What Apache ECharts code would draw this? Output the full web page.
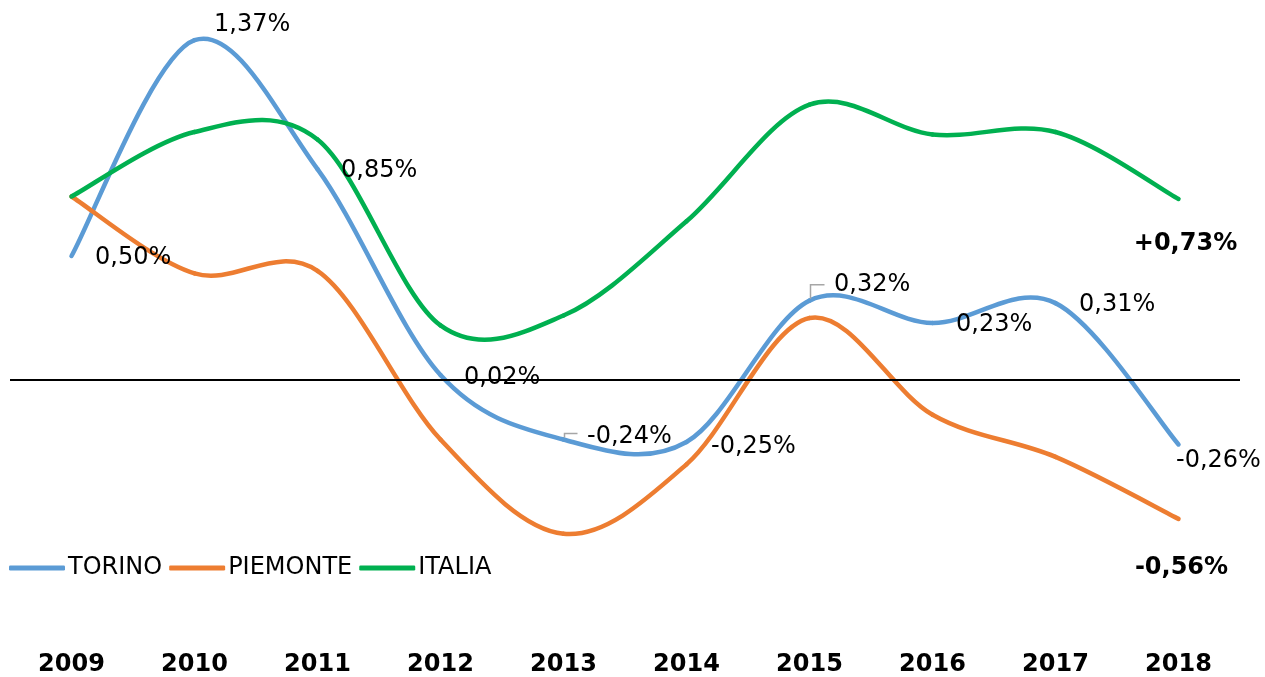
<!DOCTYPE html>
<html lang="it">
  <head>
    <meta charset="UTF-8" />
    <title>Torino Piemonte Italia</title>
    <script src="https://cdn.jsdelivr.net/npm/echarts@6.0.0/dist/echarts.min.js"></script>
    <style>
      body {
        margin: 0;
        padding: 0;
        background: #fff;
        font-family: "DejaVu Sans", Verdana, sans-serif;
      }
      #main {
        width: 1265px;
        height: 677px;
      }
    </style>
  </head>
  <body>
    <div id="main"></div>

    <script>
      // categories and values (percent)
      const years = ["2009", "2010", "2011", "2012", "2013", "2014", "2015", "2016", "2017", "2018"];
      const torino = [0.5, 1.37, 0.85, 0.02, -0.24, -0.25, 0.32, 0.23, 0.31, -0.26];
      const piemonte = [0.74, 0.43, 0.44, -0.24, -0.62, -0.34, 0.25, -0.14, -0.31, -0.56];
      const italia = [0.74, 1.0, 0.97, 0.22, 0.26, 0.64, 1.11, 0.99, 1.0, 0.73];

      // label offsets for the TORINO values, [dx, dy]
      const torinoLabelOffsets = [
        [23, 2], [19, -15], [23, 2], [23, 3], [23, -3],
        [24, 5], [24, -16], [23, 2], [23, 2], [-3, 16]
      ];
      // small grey leader elbows: dataIndex -> [rise, run]
      const leaders = { 4: [-6, 13], 6: [-16, 14] };

      function fmt(v) {
        return v.toFixed(2).replace(".", ",") + "%";
      }

      const blue = "#5B9BD5";
      const orange = "#ED7D31";
      const green = "#00B050";

      // Excel-like smoothed line (Catmull-Rom segments through the points)
      function curveSeries(name, values, color, withLeaders) {
        return {
          name: name,
          type: "custom",
          coordinateSystem: "cartesian2d",
          itemStyle: { color: color },
          encode: { x: 0, y: 1 },
          data: values.map((v, i) => [i, v]),
          silent: true,
          z: 3,
          renderItem: function (params, api) {
            const i = params.dataIndexInside;
            const n = values.length;
            const pt = (k) => {
              k = Math.max(0, Math.min(n - 1, k));
              return api.coord([api.value(0, k), api.value(1, k)]);
            };
            const children = [];
            if (i < n - 1) {
              const p0 = pt(i - 1), p1 = pt(i), p2 = pt(i + 1), p3 = pt(i + 2);
              children.push({
                type: "bezierCurve",
                shape: {
                  x1: p1[0], y1: p1[1],
                  x2: p2[0], y2: p2[1],
                  cpx1: p1[0] + (p2[0] - p0[0]) / 6,
                  cpy1: p1[1] + (p2[1] - p0[1]) / 6,
                  cpx2: p2[0] - (p3[0] - p1[0]) / 6,
                  cpy2: p2[1] - (p3[1] - p1[1]) / 6,
                },
                style: { stroke: color, lineWidth: 4.5, fill: null, lineCap: "round" },
              });
            }
            if (withLeaders && leaders[i]) {
              const p = pt(i);
              const [rise, run] = leaders[i];
              children.push({
                type: "polyline",
                z2: 10,
                shape: {
                  points: [
                    [p[0] + 1, p[1] - 2],
                    [p[0] + 1, p[1] + rise],
                    [p[0] + 1 + run, p[1] + rise],
                  ],
                },
                style: { stroke: "#a6a6a6", lineWidth: 1.5, fill: null },
              });
            }
            return { type: "group", children: children };
          },
        };
      }

      // invisible line series that carry the value labels
      function labelSeries(name, data, color) {
        return {
          name: name,
          type: "line",
          data: data,
          color: color,
          symbol: "circle",
          symbolSize: 1,
          showSymbol: true,
          silent: true,
          z: 4,
          lineStyle: { opacity: 0 },
          label: {
            show: false,
            color: "#000",
            fontSize: 24,
            fontFamily: "DejaVu Sans",
            position: "right",
            distance: 0,
            formatter: (p) => fmt(p.value),
          },
          emphasis: { disabled: true },
        };
      }

      const torinoData = torino.map((v, i) => ({
        value: v,
        label: { show: true, offset: torinoLabelOffsets[i] },
      }));

      // only the 2018 value gets the bold annotation
      function lastBold(arr, offset) {
        return arr.map((v, i) =>
          i === arr.length - 1
            ? {
                value: v,
                label: {
                  show: true,
                  position: "inside",
                  offset: offset,
                  fontWeight: "bold",
                  fontSize: 24,
                  formatter: (p) => (p.value > 0 ? "+" : "") + fmt(p.value),
                },
              }
            : v
        );
      }

      const chart = echarts.init(document.getElementById("main"));

      const zeroLine = labelSeries("zero", [], "#000");
      zeroLine.z = 1;
      zeroLine.markLine = {
        silent: true,
        symbol: ["none", "none"],
        label: { show: false },
        lineStyle: { color: "#000", width: 2, type: "solid" },
        data: [{ yAxis: 0 }],
      };

      const option = {
        animation: false,
        textStyle: { fontFamily: "DejaVu Sans" },
        grid: { left: 10, right: 25, top: 8, bottom: 44 },
        legend: {
          left: 9,
          top: 556,
          padding: 0,
          icon: "roundRect",
          itemWidth: 56,
          itemHeight: 5,
          itemGap: 7,
          textStyle: { fontSize: 24, color: "#000", padding: [0, 0, 0, -2] },
          data: ["TORINO", "PIEMONTE", "ITALIA"],
        },
        xAxis: {
          type: "category",
          data: years,
          boundaryGap: true,
          axisLine: { show: false },
          axisTick: { show: false },
          axisLabel: {
            color: "#000",
            fontSize: 24,
            fontWeight: "bold",
            margin: 25,
          },
        },
        yAxis: {
          type: "value",
          min: -1,
          max: 1.5,
          show: false,
        },
        series: [
          zeroLine,
          curveSeries("TORINO", torino, blue, true),
          curveSeries("PIEMONTE", piemonte, orange, false),
          curveSeries("ITALIA", italia, green, false),
          labelSeries("TORINO label", torinoData, blue),
          labelSeries("PIEMONTE label", lastBold(piemonte, [3, 49]), orange),
          labelSeries("ITALIA label", lastBold(italia, [7, 45]), green),
        ],
      };

      chart.setOption(option);
    </script>
  </body>
</html>
